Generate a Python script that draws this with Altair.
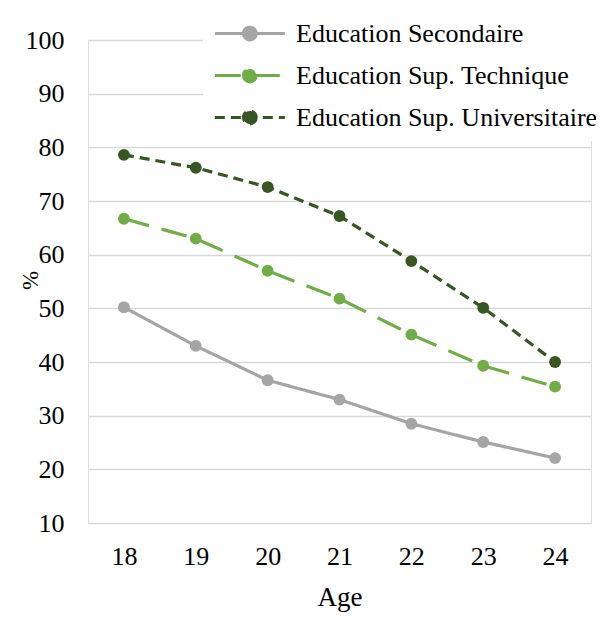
import altair as alt
import pandas as pd

ages = ["18", "19", "20", "21", "22", "23", "24"]
series_names = ["Education Secondaire", "Education Sup. Technique", "Education Sup. Universitaire"]
secondaire = [50.2, 43.0, 36.6, 33.0, 28.5, 25.1, 22.1]
technique = [66.7, 63.0, 57.0, 51.8, 45.1, 39.3, 35.4]
universitaire = [78.6, 76.2, 72.6, 67.2, 58.8, 50.1, 40.0]
colors = ["#A5A5A5", "#70AD47", "#375623"]
dashes = [[1, 0], [26, 13], [10, 6]]

rows = []
for name, vals in zip(series_names, [secondaire, technique, universitaire]):
    for a, v in zip(ages, vals):
        rows.append({"Age": a, "val": v, "serie": name})
df = pd.DataFrame(rows)

FONT = "Liberation Serif"
sym_path = "M-1,0H5M2.55,0A0.55,0.55,0,1,1,1.45,0A0.55,0.55,0,1,1,2.55,0Z"

legend = alt.Legend(
    title=None, orient="none", legendX=115, legendY=-30, padding=10,
    fillColor="white", symbolType=sym_path, symbolSize=544, symbolStrokeWidth=3,
    labelFont=FONT, labelFontSize=26, labelColor="black", labelOffset=56,
    rowPadding=15, labelLimit=500,
)

x = alt.X("Age:O", sort=ages, title="Age",
          scale=alt.Scale(padding=0.5),
          axis=alt.Axis(labelAngle=0, domain=False, ticks=False, grid=False,
                        labelPadding=20, titlePadding=15, labelFont=FONT, labelFontSize=26,
                        labelColor="black", titleFont=FONT, titleFontSize=27,
                        titleFontWeight="normal", titleColor="black"))
y = alt.Y("val:Q", title="%",
          scale=alt.Scale(domain=[10, 100], nice=False, zero=False),
          axis=alt.Axis(values=list(range(10, 101, 10)), domain=False, ticks=False,
                        gridColor="#D9D9D9", gridWidth=1.3, labelPadding=24,
                        labelFont=FONT, labelFontSize=26, labelColor="black",
                        titleFont=FONT, titleFontSize=23, titleFontWeight="normal",
                        titleColor="black", titleAngle=270, titleX=-58, titleY=240,
                        titleBaseline="middle"))

stroke = alt.Stroke("serie:N", sort=series_names,
                    scale=alt.Scale(domain=series_names, range=colors), legend=legend)
fill = alt.Fill("serie:N", sort=series_names,
                scale=alt.Scale(domain=series_names, range=colors), legend=legend)
dash = alt.StrokeDash("serie:N", sort=series_names,
                      scale=alt.Scale(domain=series_names, range=dashes), legend=legend)

lines = alt.Chart(df).mark_line(strokeWidth=3.2).encode(x=x, y=y, stroke=stroke, strokeDash=dash)
points = alt.Chart(df).mark_point(filled=True, size=140, opacity=1, shape="circle").encode(
    x=x, y=y, fill=fill)

chart = alt.layer(lines, points).properties(
    width=503, height=483,
    autosize=alt.AutoSizeParams(type="none"),
    padding={"left": 80, "top": 32, "right": 5, "bottom": 90},
).configure_view(stroke=None).configure(background="white")

chart.save("out.html", embed_options={"renderer": "svg", "actions": False})
